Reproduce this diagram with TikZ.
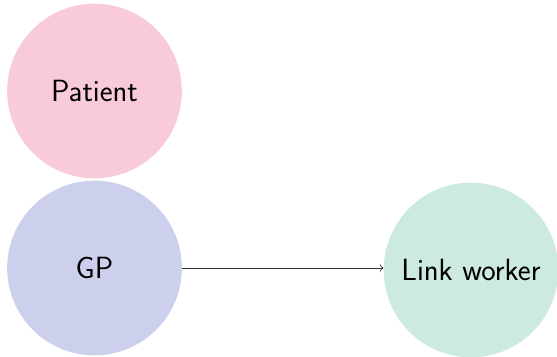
\documentclass[tikz,border=0pt]{standalone}
\usetikzlibrary{arrows.meta,positioning}
\definecolor{patientpink}{RGB}{249,202,216}
\definecolor{gplilac}{RGB}{205,208,236}
\definecolor{linkgreen}{RGB}{204,234,223}
\tikzset{
  actor/.style = {circle, draw=none, inner sep=0pt, minimum size=131pt,
                  font=\sffamily\fontsize{23}{27}\selectfont},
  handoff/.style = {->, draw=black!80, line width=0.5pt},
}

\begin{document}
\begin{tikzpicture}[x=0.75pt, y=-0.75pt]
  \useasboundingbox (0,0) rectangle (557,357);
  \node[actor, fill=patientpink] (patient) at (94.5,91)  {Patient};
  \node[actor, fill=gplilac]     (gp)      at (94.5,268) {GP};
  \node[actor, fill=linkgreen]   (link)    at (471,270)  {Link worker};

  \draw[handoff] (gp.east) -- (link.west |- gp.east);
\end{tikzpicture}
\end{document}
